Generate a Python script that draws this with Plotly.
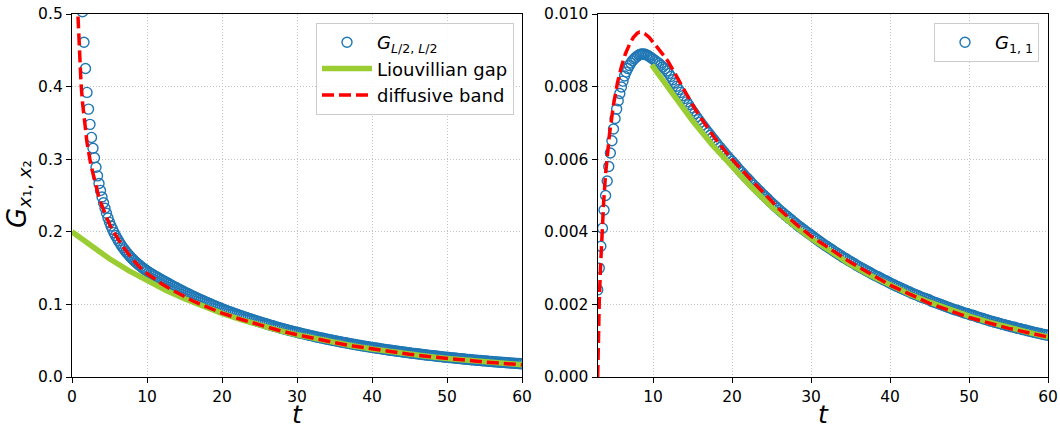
import plotly.graph_objects as go

# ---------------- data ----------------
# common late-time grid (t = 10 ... 60, step 0.25)
t_long = [10.0, 10.25, 10.5, 10.75, 11.0, 11.25, 11.5, 11.75,
          12.0, 12.25, 12.5, 12.75, 13.0, 13.25, 13.5, 13.75,
          14.0, 14.25, 14.5, 14.75, 15.0, 15.25, 15.5, 15.75,
          16.0, 16.25, 16.5, 16.75, 17.0, 17.25, 17.5, 17.75,
          18.0, 18.25, 18.5, 18.75, 19.0, 19.25, 19.5, 19.75,
          20.0, 20.25, 20.5, 20.75, 21.0, 21.25, 21.5, 21.75,
          22.0, 22.25, 22.5, 22.75, 23.0, 23.25, 23.5, 23.75,
          24.0, 24.25, 24.5, 24.75, 25.0, 25.25, 25.5, 25.75,
          26.0, 26.25, 26.5, 26.75, 27.0, 27.25, 27.5, 27.75,
          28.0, 28.25, 28.5, 28.75, 29.0, 29.25, 29.5, 29.75,
          30.0, 30.25, 30.5, 30.75, 31.0, 31.25, 31.5, 31.75,
          32.0, 32.25, 32.5, 32.75, 33.0, 33.25, 33.5, 33.75,
          34.0, 34.25, 34.5, 34.75, 35.0, 35.25, 35.5, 35.75,
          36.0, 36.25, 36.5, 36.75, 37.0, 37.25, 37.5, 37.75,
          38.0, 38.25, 38.5, 38.75, 39.0, 39.25, 39.5, 39.75,
          40.0, 40.25, 40.5, 40.75, 41.0, 41.25, 41.5, 41.75,
          42.0, 42.25, 42.5, 42.75, 43.0, 43.25, 43.5, 43.75,
          44.0, 44.25, 44.5, 44.75, 45.0, 45.25, 45.5, 45.75,
          46.0, 46.25, 46.5, 46.75, 47.0, 47.25, 47.5, 47.75,
          48.0, 48.25, 48.5, 48.75, 49.0, 49.25, 49.5, 49.75,
          50.0, 50.25, 50.5, 50.75, 51.0, 51.25, 51.5, 51.75,
          52.0, 52.25, 52.5, 52.75, 53.0, 53.25, 53.5, 53.75,
          54.0, 54.25, 54.5, 54.75, 55.0, 55.25, 55.5, 55.75,
          56.0, 56.25, 56.5, 56.75, 57.0, 57.25, 57.5, 57.75,
          58.0, 58.25, 58.5, 58.75, 59.0, 59.25, 59.5, 59.75,
          60.0]

# left panel: G_{L/2,L/2}
t_half_early = [1.4, 1.6, 1.8, 2.0, 2.2, 2.4, 2.6, 2.8, 3.0, 3.2,
                3.4, 3.6, 3.8, 4.0, 4.2, 4.4, 4.6, 4.8, 5.0, 5.2,
                5.4, 5.6, 5.8, 6.0, 6.2, 6.4, 6.6, 6.8, 7.0, 7.2,
                7.4, 7.6, 7.8, 8.0, 8.2, 8.4, 8.6, 8.8, 9.0, 9.2,
                9.4, 9.6, 9.8]
G_half_early = [0.503, 0.461, 0.425, 0.392, 0.369, 0.348, 0.330, 0.315, 0.302, 0.289,
                0.277, 0.2665, 0.257, 0.248, 0.240, 0.2325, 0.2255, 0.219, 0.2130, 0.2079,
                0.2033, 0.1989, 0.1948, 0.1910, 0.1875, 0.1841, 0.1809, 0.1780, 0.1752, 0.1725,
                0.1700, 0.1677, 0.1654, 0.1632, 0.1611, 0.1592, 0.1573, 0.1555, 0.1538, 0.1521,
                0.1505, 0.1489, 0.1475]
G_half_late = [0.1460, 0.1444, 0.1428, 0.1412, 0.1397, 0.1382, 0.1367, 0.1352,
               0.1337, 0.1322, 0.1308, 0.1294, 0.1280, 0.1266, 0.1252, 0.1238,
               0.1225, 0.1211, 0.1198, 0.1185, 0.1172, 0.1159, 0.1146, 0.1133,
               0.1121, 0.1109, 0.1097, 0.1085, 0.1073, 0.1061, 0.1050, 0.1038,
               0.1027, 0.1016, 0.1005, 0.0994, 0.0983, 0.0972, 0.0961, 0.0950,
               0.0940, 0.0930, 0.0920, 0.0910, 0.0901, 0.0891, 0.0882, 0.0873,
               0.0864, 0.0855, 0.0846, 0.0837, 0.0828, 0.0819, 0.0811, 0.0802,
               0.0794, 0.0785, 0.0777, 0.0769, 0.0761, 0.0753, 0.0745, 0.0737,
               0.0729, 0.0721, 0.0714, 0.0706, 0.0699, 0.0691, 0.0684, 0.0677,
               0.0670, 0.0663, 0.0656, 0.0649, 0.0642, 0.0635, 0.0629, 0.0622,
               0.0616, 0.0609, 0.0603, 0.0597, 0.0591, 0.0585, 0.0579, 0.0573,
               0.0567, 0.0561, 0.0555, 0.0549, 0.0544, 0.0538, 0.0533, 0.0527,
               0.0522, 0.0516, 0.0511, 0.0506, 0.0501, 0.0495, 0.0490, 0.0485,
               0.0480, 0.0475, 0.0471, 0.0466, 0.0461, 0.0456, 0.0452, 0.0447,
               0.0442, 0.0437, 0.0433, 0.0429, 0.0425, 0.0420, 0.0416, 0.0412,
               0.0408, 0.0404, 0.0400, 0.0396, 0.0392, 0.0388, 0.0384, 0.0380,
               0.0376, 0.0372, 0.0369, 0.0365, 0.0361, 0.0357, 0.0354, 0.0350,
               0.0347, 0.0343, 0.0340, 0.0336, 0.0333, 0.0329, 0.0326, 0.0323,
               0.0320, 0.0316, 0.0313, 0.0310, 0.0307, 0.0304, 0.0301, 0.0298,
               0.0295, 0.0292, 0.0289, 0.0286, 0.0283, 0.0280, 0.0277, 0.0274,
               0.0272, 0.0269, 0.0267, 0.0264, 0.0261, 0.0258, 0.0256, 0.0253,
               0.0251, 0.0248, 0.0246, 0.0243, 0.0241, 0.0238, 0.0236, 0.0233,
               0.0231, 0.0229, 0.0227, 0.0224, 0.0222, 0.0220, 0.0218, 0.0215,
               0.0213, 0.0211, 0.0209, 0.0207, 0.0205, 0.0203, 0.0201, 0.0199,
               0.0197, 0.0195, 0.0193, 0.0191, 0.0189, 0.0187, 0.0185, 0.0183,
               0.0182]

t_gap_left = [0.0, 2.5, 5.0, 7.5, 10.0, 12.5, 15.0, 17.5, 20.0, 22.5, 25.0, 27.5, 30.0,
              32.5, 35.0, 37.5, 40.0, 42.5, 45.0, 47.5, 50.0, 52.5, 55.0, 57.5, 60.0]
gap_left = [0.2000, 0.1804, 0.1628, 0.1468, 0.1325, 0.1195, 0.1078, 0.0972, 0.0877, 0.0791,
            0.0714, 0.0644, 0.0581, 0.0524, 0.0473, 0.0426, 0.0385, 0.0347, 0.0313, 0.0282,
            0.0255, 0.0230, 0.0207, 0.0187, 0.0169]

t_band_left = [0.7, 0.8, 0.9, 1.0, 1.2, 1.4, 1.6, 1.8, 2.0, 2.5, 3.0, 3.5, 4.0, 4.5, 5.0,
               5.5, 6.0, 7.0, 8.0, 9.0, 10.0, 11.0, 12.0, 13.0, 14.0, 15.0, 16.0, 17.0,
               18.0, 19.0, 20.0, 22.5, 25.0, 27.5, 30.0, 32.5, 35.0, 37.5, 40.0, 42.5,
               45.0, 47.5, 50.0, 52.5, 55.0, 57.5, 60.0]
band_left = [0.520, 0.490, 0.462, 0.440, 0.405, 0.378, 0.356, 0.338, 0.323, 0.293, 0.270,
             0.251, 0.2355, 0.222, 0.2105, 0.2005, 0.192, 0.1765, 0.163, 0.1515, 0.1425,
             0.1348, 0.1280, 0.1218, 0.1160, 0.1105, 0.1054, 0.1006, 0.0961, 0.0919, 0.0880,
             0.0795, 0.0716, 0.0644, 0.0581, 0.0524, 0.0473, 0.0426, 0.0385, 0.0347, 0.0313,
             0.0282, 0.0255, 0.0230, 0.0207, 0.0187, 0.0169]

# right panel: G_{1,1}
t_one_early = [3.0, 3.2, 3.4, 3.6, 3.8, 4.0, 4.2, 4.4, 4.6, 4.8,
               5.0, 5.2, 5.4, 5.6, 5.8, 6.0, 6.2, 6.4, 6.6, 6.8,
               7.0, 7.2, 7.4, 7.6, 7.8, 8.0, 8.2, 8.4, 8.6, 8.8,
               9.0, 9.2, 9.4, 9.6, 9.8]
G_one_early = [0.0024, 0.0030, 0.0036, 0.0041, 0.0046, 0.0050, 0.0054, 0.0058, 0.00617, 0.00651,
               0.00683, 0.00712, 0.00738, 0.00761, 0.00781, 0.00799, 0.00815, 0.00829, 0.00840, 0.00850,
               0.00858, 0.00865, 0.00871, 0.00876, 0.00880, 0.00884, 0.00887, 0.00889, 0.00890, 0.00890,
               0.00889, 0.00887, 0.00885, 0.00882, 0.00879]
G_one_late = [0.00876, 0.00872, 0.00868, 0.00864, 0.00859, 0.00854, 0.00849, 0.00843,
              0.00836, 0.00828, 0.00819, 0.00810, 0.00801, 0.00792, 0.00784, 0.00775,
              0.00767, 0.00758, 0.00750, 0.00741, 0.00733, 0.00725, 0.00717, 0.00709,
              0.00702, 0.00694, 0.00687, 0.00680, 0.00673, 0.00666, 0.00659, 0.00652,
              0.00645, 0.00638, 0.00632, 0.00625, 0.00619, 0.00612, 0.00606, 0.00600,
              0.00594, 0.00588, 0.00582, 0.00575, 0.00569, 0.00563, 0.00557, 0.00551,
              0.00546, 0.00540, 0.00534, 0.00528, 0.00523, 0.00517, 0.00512, 0.00506,
              0.00501, 0.00496, 0.00491, 0.00485, 0.00480, 0.00475, 0.00470, 0.00465,
              0.00460, 0.00455, 0.00451, 0.00446, 0.00442, 0.00437, 0.00433, 0.00428,
              0.00424, 0.00419, 0.00415, 0.00411, 0.00407, 0.00403, 0.00399, 0.00395,
              0.00391, 0.00387, 0.00383, 0.00379, 0.00375, 0.00371, 0.00367, 0.00363,
              0.00360, 0.00356, 0.00353, 0.00349, 0.00345, 0.00342, 0.00338, 0.00335,
              0.00331, 0.00328, 0.00325, 0.00321, 0.00318, 0.00315, 0.00312, 0.00308,
              0.00305, 0.00302, 0.00299, 0.00296, 0.00293, 0.00290, 0.00287, 0.00284,
              0.00281, 0.00278, 0.00276, 0.00273, 0.00270, 0.00267, 0.00265, 0.00262,
              0.00259, 0.00256, 0.00254, 0.00251, 0.00249, 0.00246, 0.00244, 0.00241,
              0.00239, 0.00236, 0.00234, 0.00231, 0.00229, 0.00227, 0.00225, 0.00222,
              0.00220, 0.00218, 0.00216, 0.00214, 0.00212, 0.00209, 0.00207, 0.00205,
              0.00203, 0.00201, 0.00199, 0.00197, 0.00195, 0.00193, 0.00191, 0.00189,
              0.00187, 0.00185, 0.00184, 0.00182, 0.00180, 0.00178, 0.00176, 0.00175,
              0.00173, 0.00171, 0.00170, 0.00168, 0.00166, 0.00164, 0.00163, 0.00161,
              0.00159, 0.00158, 0.00156, 0.00154, 0.00153, 0.00151, 0.00150, 0.00148,
              0.00147, 0.00145, 0.00144, 0.00142, 0.00141, 0.00139, 0.00138, 0.00137,
              0.00135, 0.00134, 0.00133, 0.00131, 0.00130, 0.00129, 0.00127, 0.00126,
              0.00125, 0.00123, 0.00122, 0.00121, 0.00120, 0.00118, 0.00117, 0.00116,
              0.00115]

t_gap_right = [9.85, 10.0, 12.5, 15.0, 17.5, 20.0, 22.5, 25.0, 27.5, 30.0, 32.5, 35.0,
               37.5, 40.0, 42.5, 45.0, 47.5, 50.0, 52.5, 55.0, 57.5, 60.0]
gap_right = [0.00860, 0.00855, 0.00780, 0.00706, 0.00639, 0.00578, 0.00522, 0.00469,
             0.00423, 0.00382, 0.00344, 0.00310, 0.00280, 0.00253, 0.00228, 0.00206,
             0.00186, 0.00168, 0.00151, 0.00136, 0.00123, 0.00110]

t_band_right = [3.0, 3.05, 3.1, 3.2, 3.35, 3.5, 3.75, 4.0, 4.25, 4.5, 5.0, 5.5, 6.0, 6.5,
                7.0, 7.5, 8.0, 8.3, 8.6, 9.0, 9.5, 10.0, 10.5, 11.0, 11.5, 12.0, 13.0,
                14.0, 15.0, 16.0, 17.0, 18.0, 19.0, 20.0, 22.0, 24.0, 26.0, 28.0, 30.0,
                35.0, 40.0, 45.0, 50.0, 55.0, 60.0]
band_right = [0.0, 0.0008, 0.0013, 0.0021, 0.0030, 0.0038, 0.0048, 0.0056, 0.0062, 0.0067,
              0.0075, 0.0081, 0.00855, 0.0089, 0.00915, 0.00935, 0.00947, 0.0095, 0.00949,
              0.00945, 0.00936, 0.00923, 0.0091, 0.00897, 0.00882, 0.00866, 0.00827, 0.00788,
              0.00750, 0.00715, 0.00683, 0.00653, 0.00626, 0.00600, 0.00553, 0.00506, 0.00462,
              0.00423, 0.00388, 0.00316, 0.00253, 0.00203, 0.00164, 0.00134, 0.00110]

x_ticks_left = [0, 10, 20, 30, 40, 50, 60]
x_ticks_right = [10, 20, 30, 40, 50, 60]

# ---------------- styling ----------------
W, H = 1060, 425
FONT = "DejaVu Sans"
BLUE = "#1f77b4"
GREEN = "#9acd32"
RED = "#ff0000"

circle_marker = dict(symbol="circle-open", size=10, color=BLUE,
                     line=dict(width=1.4, color=BLUE))

fig = go.Figure()
fig.add_trace(go.Scatter(
    x=t_half_early + t_long, y=G_half_early + G_half_late, mode="markers",
    marker=circle_marker, name="<i>G</i><sub><i>L</i>/2, <i>L</i>/2</sub>",
    xaxis="x", yaxis="y", legend="legend", legendgroup="a"))
fig.add_trace(go.Scatter(
    x=t_gap_left, y=gap_left, mode="lines", line=dict(color=GREEN, width=5.5),
    name="Liouvillian gap", xaxis="x", yaxis="y", legend="legend", legendgroup="b"))
fig.add_trace(go.Scatter(
    x=t_band_left, y=band_left, mode="lines",
    line=dict(color=RED, width=3.5, dash="12px,5px"),
    name="diffusive band", xaxis="x", yaxis="y", legend="legend", legendgroup="c"))

fig.add_trace(go.Scatter(
    x=t_one_early + t_long, y=G_one_early + G_one_late, mode="markers",
    marker=circle_marker, name="<i>G</i><sub>1, 1</sub>",
    xaxis="x2", yaxis="y2", legend="legend2", legendgroup="d"))
fig.add_trace(go.Scatter(
    x=t_gap_right, y=gap_right, mode="lines", line=dict(color=GREEN, width=5.5),
    showlegend=False, xaxis="x2", yaxis="y2"))
fig.add_trace(go.Scatter(
    x=t_band_right, y=band_right, mode="lines",
    line=dict(color=RED, width=3.5, dash="12px,5px"),
    showlegend=False, xaxis="x2", yaxis="y2"))

axis_common = dict(
    showline=True, linecolor="black", linewidth=1.3, mirror=True,
    ticks="outside", ticklen=5, tickwidth=1.2, tickcolor="black",
    showgrid=True, gridcolor="#c4c4c4", gridwidth=1, griddash="1px,2px",
    zeroline=False, automargin=False,
    tickfont=dict(family=FONT, size=15.5, color="black"))

ydom = [(H - 377) / H, (H - 14) / H]

legend_common = dict(
    bgcolor="rgba(255,255,255,0.85)", bordercolor="#cccccc", borderwidth=1,
    font=dict(family=FONT, size=18, color="black"), tracegroupgap=0,
    itemwidth=50, yanchor="top", xanchor="right")

fig.update_layout(
    width=W, height=H, margin=dict(l=0, r=0, t=0, b=0),
    paper_bgcolor="white", plot_bgcolor="white",
    font=dict(family=FONT, color="black"),
    xaxis=dict(domain=[72 / W, 522 / W], range=[0, 60], tickvals=x_ticks_left,
               anchor="y", **axis_common),
    yaxis=dict(domain=ydom, range=[0, 0.5], dtick=0.1, tickformat=".1f",
               anchor="x", **axis_common),
    xaxis2=dict(domain=[597.7 / W, 1048 / W], range=[3.0, 60], tickvals=x_ticks_right,
                anchor="y2", **axis_common),
    yaxis2=dict(domain=ydom, range=[0, 0.010], dtick=0.002, tickformat=".3f",
                anchor="x2", **axis_common),
    legend=dict(x=514 / W, y=1 - 23 / H, **legend_common),
    legend2=dict(x=1039 / W, y=1 - 23 / H, **legend_common),
    annotations=[
        dict(text="<i>G</i><sub><i>x</i>\u2081, <i>x</i>\u2082</sub>", x=18 / W, y=1 - 194 / H,
             xref="paper", yref="paper", showarrow=False, textangle=-90,
             xanchor="center", yanchor="middle", font=dict(family=FONT, size=26)),
        dict(text="<i>t</i>", x=297 / W, y=1 - 414 / H, xref="paper", yref="paper",
             showarrow=False, xanchor="center", yanchor="middle",
             font=dict(family=FONT, size=25)),
        dict(text="<i>t</i>", x=823 / W, y=1 - 414 / H, xref="paper", yref="paper",
             showarrow=False, xanchor="center", yanchor="middle",
             font=dict(family=FONT, size=25)),
    ],
)

fig.write_html("out.html",
               config={"displayModeBar": False},
               post_script="document.body.style.margin='0px';"
                           "document.body.style.overflow='hidden';")
